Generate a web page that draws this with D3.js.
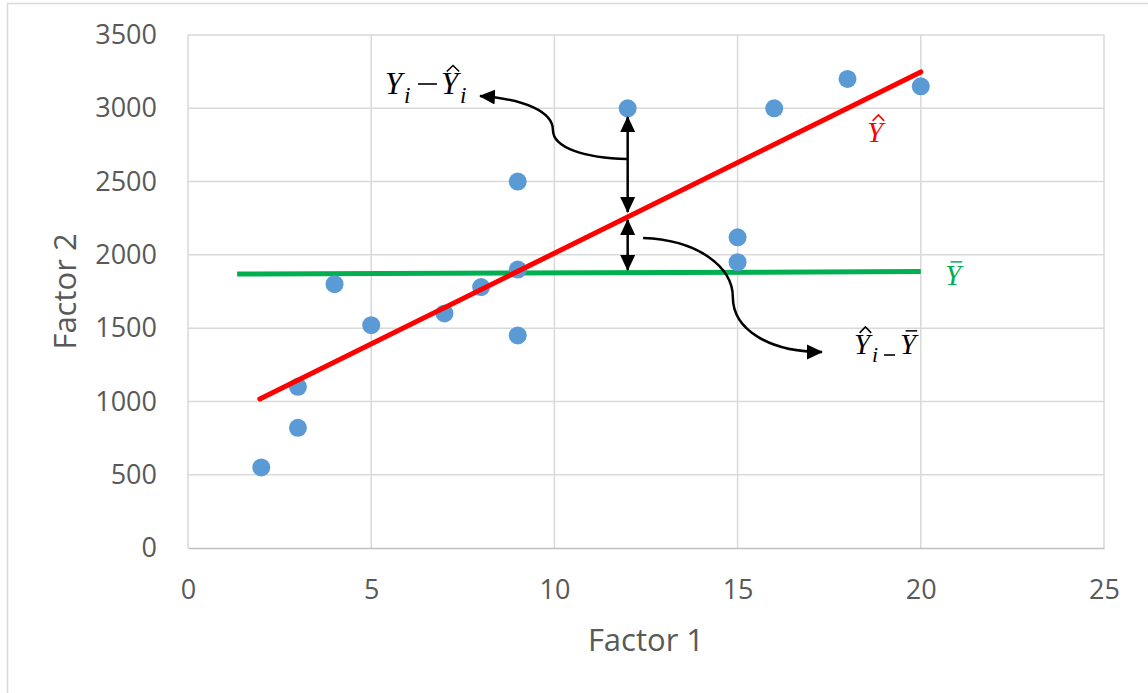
<!DOCTYPE html>
<html>
<head>
<meta charset="utf-8">
<script src="https://cdn.jsdelivr.net/npm/d3@7"></script>
<style>
  html, body { margin: 0; padding: 0; background: #fff; }
  svg { display: block; }
</style>
</head>
<body>
<svg id="chart" width="1148" height="693"></svg>
<script>
// data
const factor1 = [2, 3, 3, 4, 5, 7, 8, 9, 9, 9, 12, 15, 15, 16, 18, 20];
const factor2 = [550, 820, 1100, 1800, 1520, 1600, 1780, 1450, 1900, 2500, 3000, 2120, 1950, 3000, 3200, 3150];
const fitX = [1.96, 20];
const fitY = [1017, 3248];
const meanX = [1.34, 20];
const meanY = [1869, 1886];
const xTicks = [0, 5, 10, 15, 20, 25];
const yTicks = [0, 500, 1000, 1500, 2000, 2500, 3000, 3500];
// deviation arrows at x = 12
const devX = 12;
const devTop = [2940, 2292];
const devBottom = [2238, 1897];

var svg = d3.select("#chart");
var margin = {top: 35, left: 188},
    width = 916,
    height = 513;

// outer frame
svg.append("rect")
  .attr("x", 7.5).attr("y", 3.5)
  .attr("width", 1160).attr("height", 700)
  .attr("fill", "none")
  .attr("stroke", "#d9d9d9")
  .attr("stroke-width", 1.5);

var x = d3.scaleLinear().domain([0, 25]).range([0, width]);
var y = d3.scaleLinear().domain([0, 3500]).range([height, 0]);

var g = svg.append("g")
  .attr("transform", "translate(" + margin.left + "," + margin.top + ")");

// gridlines
g.append("g")
  .selectAll("line")
  .data(yTicks.slice(1))
  .enter().append("line")
  .attr("x1", 0).attr("x2", width)
  .attr("y1", d => y(d)).attr("y2", d => y(d))
  .attr("stroke", "#d9d9d9").attr("stroke-width", 1.5);

g.append("g")
  .selectAll("line")
  .data(xTicks)
  .enter().append("line")
  .attr("y1", 0).attr("y2", height)
  .attr("x1", d => x(d)).attr("x2", d => x(d))
  .attr("stroke", "#d9d9d9").attr("stroke-width", 1.5);

// axes
var xAxis = d3.axisBottom(x).tickValues(xTicks).tickSize(0).tickFormat(d3.format("d"));
var yAxis = d3.axisLeft(y).tickValues(yTicks).tickSize(0).tickPadding(31).tickFormat(d3.format("d"));

var gx = g.append("g")
  .attr("transform", "translate(0," + height + ")")
  .call(xAxis);
gx.select(".domain").attr("stroke", "#bfbfbf").attr("stroke-width", 1.5);

var gy = g.append("g").call(yAxis);
gy.select(".domain").remove();

g.selectAll(".tick text")
  .attr("font-family", "Open Sans, sans-serif")
  .attr("font-size", 27)
  .attr("fill", "#595959");
gx.selectAll(".tick text").attr("dy", "0.35em").attr("y", 42);

// axis titles
svg.append("text")
  .attr("x", margin.left + width / 2)
  .attr("y", 651)
  .attr("text-anchor", "middle")
  .attr("font-family", "Open Sans, sans-serif")
  .attr("font-size", 31)
  .attr("fill", "#595959")
  .text("Factor 1");

svg.append("text")
  .attr("transform", "translate(76," + (margin.top + height / 2) + ") rotate(-90)")
  .attr("text-anchor", "middle")
  .attr("font-family", "Open Sans, sans-serif")
  .attr("font-size", 31)
  .attr("fill", "#595959")
  .text("Factor 2");

// arrowhead marker
var defs = svg.append("defs");
defs.append("marker")
  .attr("id", "head")
  .attr("markerUnits", "userSpaceOnUse")
  .attr("viewBox", "0 -8 16 16")
  .attr("refX", 15).attr("refY", 0)
  .attr("markerWidth", 16).attr("markerHeight", 16)
  .attr("orient", "auto-start-reverse")
  .append("path")
  .attr("d", "M0,-7.5L16,0L0,7.5Z")
  .attr("fill", "#000");

var line = d3.line().x(d => x(d[0])).y(d => y(d[1]));

// mean line (green)
g.append("path")
  .attr("d", line(d3.zip(meanX, meanY)))
  .attr("stroke", "#00b050").attr("stroke-width", 5).attr("fill", "none");

// points
g.selectAll(".dot")
  .data(d3.zip(factor1, factor2))
  .enter().append("circle")
  .attr("class", "dot")
  .attr("cx", d => x(d[0]))
  .attr("cy", d => y(d[1]))
  .attr("r", 9)
  .attr("fill", "#5b9bd5");

// fitted line (red)
g.append("path")
  .attr("d", line(d3.zip(fitX, fitY)))
  .attr("stroke", "#ff0000").attr("stroke-width", 5)
  .attr("stroke-linecap", "round").attr("fill", "none");

// double arrows
[devTop, devBottom].forEach(function(seg) {
  g.append("line")
    .attr("x1", x(devX)).attr("x2", x(devX))
    .attr("y1", y(seg[0])).attr("y2", y(seg[1]))
    .attr("stroke", "#000").attr("stroke-width", 2.5)
    .attr("marker-start", "url(#head)")
    .attr("marker-end", "url(#head)");
});

// curved callout arrows (data units)
function curve(pts) {
  var p = d3.path();
  p.moveTo(x(pts[0][0]), y(pts[0][1]));
  for (var i = 1; i < pts.length; i += 3) {
    p.bezierCurveTo(x(pts[i][0]), y(pts[i][1]), x(pts[i+1][0]), y(pts[i+1][1]), x(pts[i+2][0]), y(pts[i+2][1]));
  }
  return p.toString();
}
var callout1 = [[11.98, 2654], [10.84, 2661], [9.96, 2729], [9.96, 2852], [9.96, 2975], [9.2, 3063], [7.97, 3084]];
var callout2 = [[12.42, 2115], [13.97, 2101], [14.87, 1910], [14.87, 1712], [14.87, 1487], [15.88, 1337], [17.3, 1337]];
[callout1, callout2].forEach(function(c) {
  g.append("path")
    .attr("d", curve(c))
    .attr("stroke", "#000").attr("stroke-width", 2.5).attr("fill", "none")
    .attr("marker-end", "url(#head)");
});

// math labels
var mathFont = "Liberation Serif, serif";
function mathY(px, py, size, color, accent) {
  var t = svg.append("text")
    .attr("x", px).attr("y", py)
    .attr("font-family", mathFont).attr("font-style", "italic")
    .attr("font-size", size).attr("fill", color)
    .text("Y");
  var b = t.node().getBBox();
  var cx = b.x + b.width * 0.6, top = py - size * 0.66 - 5, w = size * 0.2;
  if (accent === "hat") {
    svg.append("path")
      .attr("d", "M" + (cx - w) + "," + (top + 3) + "L" + cx + "," + (top - 3) + "L" + (cx + w) + "," + (top + 3))
      .attr("stroke", color).attr("stroke-width", 1.5).attr("fill", "none");
  } else if (accent === "bar") {
    svg.append("line")
      .attr("x1", cx - w).attr("x2", cx + w)
      .attr("y1", top + 1).attr("y2", top + 1)
      .attr("stroke", color).attr("stroke-width", 1.5);
  }
  return b.x + b.width;
}
function sub(px, py, size, color) {
  svg.append("text")
    .attr("x", px).attr("y", py + size * 0.28)
    .attr("font-family", mathFont).attr("font-style", "italic")
    .attr("font-size", size * 0.75).attr("fill", color)
    .text("i");
}
function minus(x1, x2, py, color) {
  svg.append("line")
    .attr("x1", x1).attr("x2", x2)
    .attr("y1", py).attr("y2", py)
    .attr("stroke", color).attr("stroke-width", 1.6);
}

// Y_i − Ŷ_i
var e = mathY(385, 94, 31, "#000", null);
sub(e - 1, 94, 31, "#000");
minus(418, 437, 84, "#000");
e = mathY(441, 94, 31, "#000", "hat");
sub(e - 1, 94, 31, "#000");

// Ŷ (red), Ȳ (green)
mathY(867, 142, 29, "#ff0000", "hat");
mathY(945, 285, 29, "#00b050", "bar");

// Ŷ_i _ Ȳ
e = mathY(854, 354, 29, "#000", "hat");
sub(e - 1, 354, 29, "#000");
minus(884, 895, 355, "#000");
mathY(900, 354, 29, "#000", "bar");
</script>
</body>
</html>
